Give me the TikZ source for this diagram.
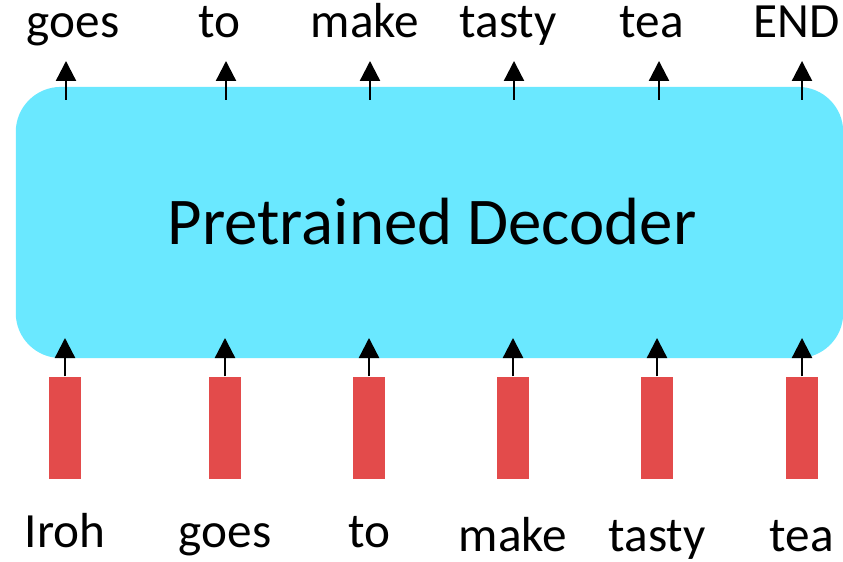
\documentclass[tikz,border=0pt]{standalone}
\usepackage{fontspec}
\setmainfont{Carlito}
\usetikzlibrary{arrows.meta}

\definecolor{decodercyan}{HTML}{6AE8FF}
\definecolor{embred}{HTML}{E34B4B}

\tikzset{
  decoder/.style={fill=decodercyan, rounded corners=0.45cm, minimum width=8.27cm, minimum height=2.71cm, inner sep=0pt},
  embbar/.style={fill=embred, minimum width=0.32cm, minimum height=1.02cm, inner sep=0pt},
  word/.style={font=\fontsize{14}{16}\selectfont, anchor=base, inner sep=0pt},
  uparrow/.style={-{Triangle[length=0.2cm,width=0.2cm]}, line width=0.65pt}
}

\begin{document}
\begin{tikzpicture}[x=0.01cm,y=-0.01cm]
\useasboundingbox (0,0) rectangle (843,562);
\node[decoder] (dec) at (429.5,222.5) {};
\node[font=\fontsize{19}{22}\selectfont] (title) at (432,222) {Pretrained Decoder};
% input side
\foreach \x/\w/\b [count=\i] in {65/Iroh/548,225/goes/548,369/to/548,513/make/552,657/tasty/552,802/tea/552}{
  \node[embbar] (bar\i) at (\x,428) {};
  \node[word] (in\i) at (\x,\b) {\w};
  \coordinate (intip\i) at (\x,338);
  \draw[uparrow] (bar\i.north) -- (intip\i);
}
% output side
\foreach \x/\lx/\w [count=\i] in {66/73/goes,226/219/to,370/365/make,514/508/tasty,659/652/tea,802/797/END}{
  \node[word] (out\i) at (\lx,38) {\w};
  \coordinate (outfoot\i) at (\x,100);
  \coordinate (outtip\i) at (\x,61);
  \draw[uparrow] (outfoot\i) -- (outtip\i);
}
\end{tikzpicture}
\end{document}
